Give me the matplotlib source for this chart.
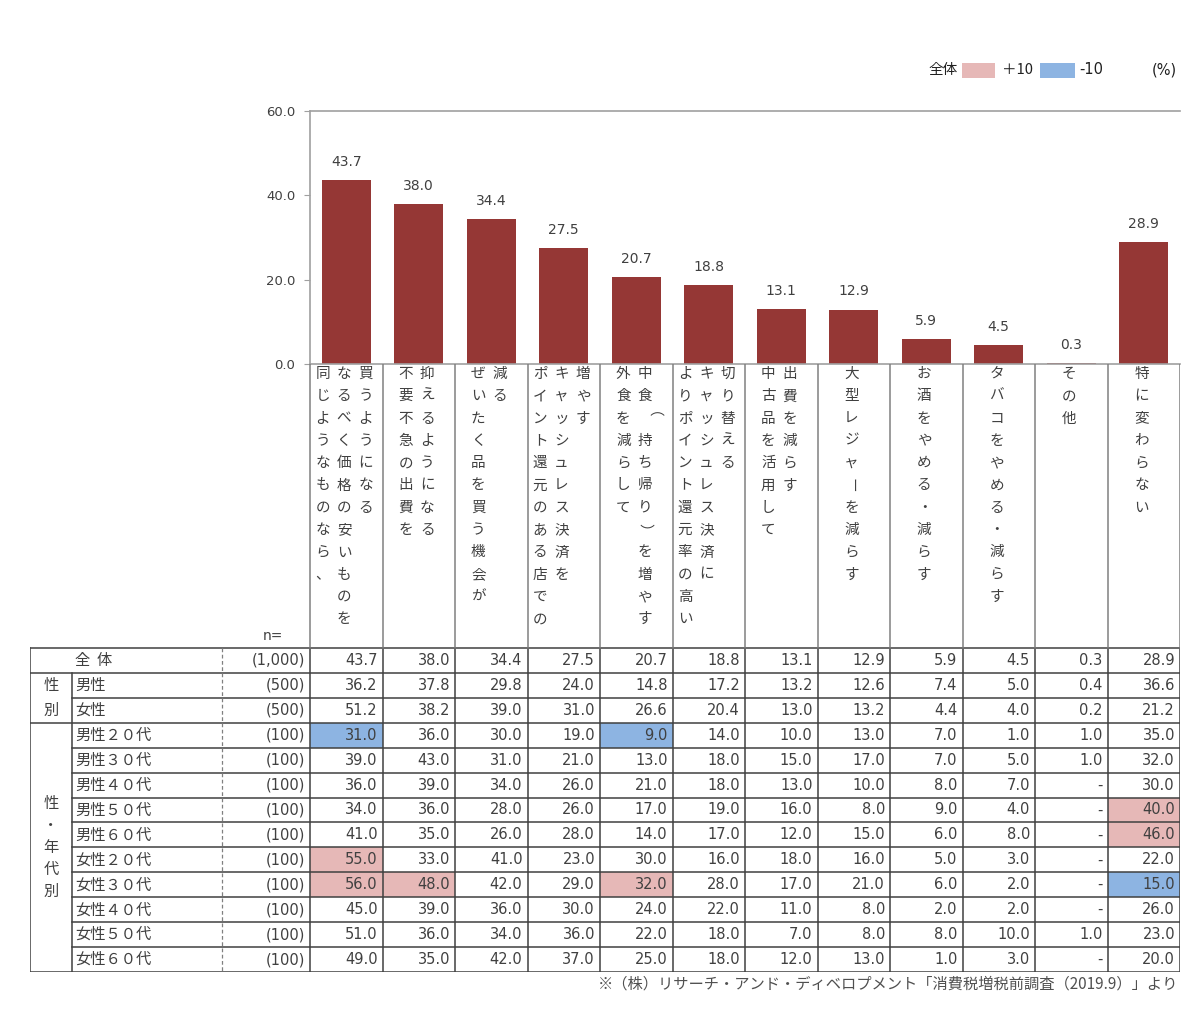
import matplotlib
matplotlib.use('Agg')
import matplotlib.pyplot as plt
from matplotlib.patches import Rectangle

plt.rcParams['font.family'] = ['Noto Sans CJK JP', 'DejaVu Sans']

# ---------------- data ----------------
categories = [
    ["同じようなものなら、", "なるべく価格の安いものを", "買うようになる"],
    ["不要不急の出費を", "抑えるようになる"],
    ["ぜいたく品を買う機会が", "減る"],
    ["ポイント還元のある店での", "キャッシュレス決済を", "増やす"],
    ["外食を減らして", "中食（持ち帰り）を増やす"],
    ["よりポイント還元率の高い", "キャッシュレス決済に", "切り替える"],
    ["中古品を活用して", "出費を減らす"],
    ["大型レジャーを減らす"],
    ["お酒をやめる・減らす"],
    ["タバコをやめる・減らす"],
    ["その他"],
    ["特に変わらない"],
]
yticks = [0, 20, 40, 60]

row_labels = ["全  体", "男性", "女性",
              "男性２０代", "男性３０代", "男性４０代", "男性５０代", "男性６０代",
              "女性２０代", "女性３０代", "女性４０代", "女性５０代", "女性６０代"]
n_labels = ["(1,000)", "(500)", "(500)"] + ["(100)"] * 10

total = [43.7, 38.0, 34.4, 27.5, 20.7, 18.8, 13.1, 12.9, 5.9, 4.5, 0.3, 28.9]
male = [36.2, 37.8, 29.8, 24.0, 14.8, 17.2, 13.2, 12.6, 7.4, 5.0, 0.4, 36.6]
female = [51.2, 38.2, 39.0, 31.0, 26.6, 20.4, 13.0, 13.2, 4.4, 4.0, 0.2, 21.2]
m20 = [31.0, 36.0, 30.0, 19.0, 9.0, 14.0, 10.0, 13.0, 7.0, 1.0, 1.0, 35.0]
m30 = [39.0, 43.0, 31.0, 21.0, 13.0, 18.0, 15.0, 17.0, 7.0, 5.0, 1.0, 32.0]
m40 = [36.0, 39.0, 34.0, 26.0, 21.0, 18.0, 13.0, 10.0, 8.0, 7.0, None, 30.0]
m50 = [34.0, 36.0, 28.0, 26.0, 17.0, 19.0, 16.0, 8.0, 9.0, 4.0, None, 40.0]
m60 = [41.0, 35.0, 26.0, 28.0, 14.0, 17.0, 12.0, 15.0, 6.0, 8.0, None, 46.0]
f20 = [55.0, 33.0, 41.0, 23.0, 30.0, 16.0, 18.0, 16.0, 5.0, 3.0, None, 22.0]
f30 = [56.0, 48.0, 42.0, 29.0, 32.0, 28.0, 17.0, 21.0, 6.0, 2.0, None, 15.0]
f40 = [45.0, 39.0, 36.0, 30.0, 24.0, 22.0, 11.0, 8.0, 2.0, 2.0, None, 26.0]
f50 = [51.0, 36.0, 34.0, 36.0, 22.0, 18.0, 7.0, 8.0, 8.0, 10.0, 1.0, 23.0]
f60 = [49.0, 35.0, 42.0, 37.0, 25.0, 18.0, 12.0, 13.0, 1.0, 3.0, None, 20.0]
rows = [total, male, female, m20, m30, m40, m50, m60, f20, f30, f40, f50, f60]

footnote = "※（株）リサーチ・アンド・ディベロプメント「消費税増税前調査（2019.9）」より"

# ---------------- style ----------------
W, H = 1200, 1017
BAR = '#953735'
PINK = '#E6B8B7'
BLUE = '#8DB4E2'
TXT = '#404040'
LINE = '#404040'
NUMF = 'DejaVu Sans'

fig = plt.figure(figsize=(W / 100, H / 100), dpi=100)
fig.patch.set_facecolor('white')

# plot geometry in pixels
X_AX, X_R = 310, 1180
Y_TOP, Y_ZERO = 111, 364
T_TOP, T_BOT = 648, 972
T_LEFT = 30
ncat = len(total)
colw = (X_R - X_AX) / ncat


def fx(px):
    return px / W


def fy(py):
    return 1 - py / H


def pu(px):
    """pixel x -> category units"""
    return (px - X_AX) / colw - 0.5


# ---------------- bar chart ----------------
ax = fig.add_axes([fx(X_AX), fy(Y_ZERO), fx(X_R - X_AX), (Y_ZERO - Y_TOP) / H])
xs = list(range(ncat))
ax.bar(xs, total, width=0.67, color=BAR, zorder=2)
for i, v in enumerate(total):
    ax.annotate(f"{v:.1f}", (i, v), xytext=(0, 8), textcoords='offset points',
                ha='center', va='bottom', fontsize=10, color=TXT, family=NUMF)
ax.set_xlim(-0.5, ncat - 0.5)
ax.set_ylim(0, 60)
ax.set_yticks(yticks)
ax.set_yticklabels([f"{t:.1f}" for t in yticks], fontsize=9.5, color=TXT, family=NUMF)
ax.set_xticks([])
ax.tick_params(axis='y', direction='out', length=4.5, color='#A0A0A0', pad=6)
for s in ['left', 'top', 'bottom']:
    ax.spines[s].set_color('#A0A0A0')
    ax.spines[s].set_linewidth(1.2)
ax.spines['right'].set_visible(False)
ax.patch.set_alpha(0)

# ---------------- table + category labels ----------------
tx = fig.add_axes([fx(T_LEFT), fy(T_BOT), fx(X_R - T_LEFT), (T_BOT - Y_ZERO) / H])
tx.set_xlim(pu(T_LEFT), ncat - 0.5)
tx.set_ylim(T_BOT, Y_ZERO)
tx.axis('off')

nrow = len(rows)
rh = (T_BOT - T_TOP) / nrow

# highlighted cells (difference from 全体 of 10 points or more)
for r in range(1, nrow):
    for j, v in enumerate(rows[r]):
        if v is None:
            continue
        d = round(v - total[j], 1)
        if d >= 10:
            c = PINK
        elif d <= -10:
            c = BLUE
        else:
            continue
        tx.add_patch(Rectangle((j - 0.5, T_TOP + r * rh), 1, rh,
                               facecolor=c, edgecolor='none', zorder=1))

# values
for r in range(nrow):
    yc = T_TOP + (r + 0.5) * rh
    for j, v in enumerate(rows[r]):
        s = '-' if v is None else f"{v:.1f}"
        tx.text(j + 0.5 - 5 / colw, yc, s, ha='right', va='center',
                fontsize=10.5, color=TXT, family=NUMF, zorder=3)
    tx.text(pu(305), yc, n_labels[r], ha='right', va='center',
            fontsize=10.5, color=TXT, family=NUMF, zorder=3)
    tx.text(pu(75), yc, row_labels[r], ha='left', va='center',
            fontsize=11, color=TXT, zorder=3)

# group labels
for k, ch in enumerate("性別"):
    tx.text(pu(51), T_TOP + (k + 1.5) * rh, ch, ha='center', va='center',
            fontsize=11, color=TXT)
grp = "性・年代別"
gc = T_TOP + (3 + nrow) / 2 * rh
for k, ch in enumerate(grp):
    tx.text(pu(51), gc + (k - (len(grp) - 1) / 2) * 22, ch, ha='center',
            va='center', fontsize=11, color=TXT)

tx.text(pu(263), 636, "n=", ha='left', va='center', fontsize=10,
        color=TXT, family=NUMF)

# table lines
lk = dict(color=LINE, lw=1.1, zorder=4)
tx.plot([pu(T_LEFT), ncat - 0.5], [T_TOP, T_TOP], **lk)
tx.plot([pu(T_LEFT), ncat - 0.5], [T_BOT, T_BOT], **lk)
for r in range(1, nrow):
    y = T_TOP + r * rh
    x0 = pu(T_LEFT) if r in (1, 3) else pu(72)
    tx.plot([x0, ncat - 0.5], [y, y], **lk)
tx.plot([pu(T_LEFT)] * 2, [T_TOP, T_BOT], **lk)
tx.plot([pu(72)] * 2, [T_TOP + rh, T_BOT], **lk)
tx.plot([pu(222)] * 2, [T_TOP, T_BOT], color='#808080', lw=0.9,
        ls=(0, (3, 2)), zorder=4)
for j in range(ncat + 1):
    tx.plot([j - 0.5] * 2, [T_TOP, T_BOT], **lk)
    tx.plot([j - 0.5] * 2, [Y_ZERO, T_TOP], color='#808080', lw=1.1, zorder=4)

# vertical category labels
rot_chars = "（）ー"
step_y = 22.3
sub_dx = 21.5 / colw
for i, lines in enumerate(categories):
    n = len(lines)
    for k, line in enumerate(lines):
        xk = i - 0.03 + (k - (n - 1) / 2) * sub_dx
        for j, ch in enumerate(line):
            rot = -90 if ch in rot_chars else 0
            tx.text(xk, 374 + j * step_y, ch, ha='center', va='center',
                    rotation=rot, fontsize=10.5, color=TXT)

# ---------------- legend & footnote ----------------
ov = fig.add_axes([0, 0, 1, 1])
ov.set_xlim(0, W)
ov.set_ylim(H, 0)
ov.axis('off')
ov.text(958, 70, "全体", ha='right', va='center', fontsize=10.5, color='#202020')
ov.add_patch(Rectangle((962, 63), 33, 15, facecolor=PINK, edgecolor='none'))
ov.text(1002, 70, "＋10", ha='left', va='center', fontsize=10.5, color='#202020')
ov.add_patch(Rectangle((1040, 63), 35, 15, facecolor=BLUE, edgecolor='none'))
ov.text(1079, 70, "-10", ha='left', va='center', fontsize=10.5, color='#202020',
        family=NUMF)
ov.text(1177, 70, "(%)", ha='right', va='center', fontsize=10.5, color='#202020',
        family=NUMF)
ov.text(1178, 984, footnote, ha='right', va='center', fontsize=11, color='#505050')

fig.savefig('out.png', dpi=100, facecolor='white')
